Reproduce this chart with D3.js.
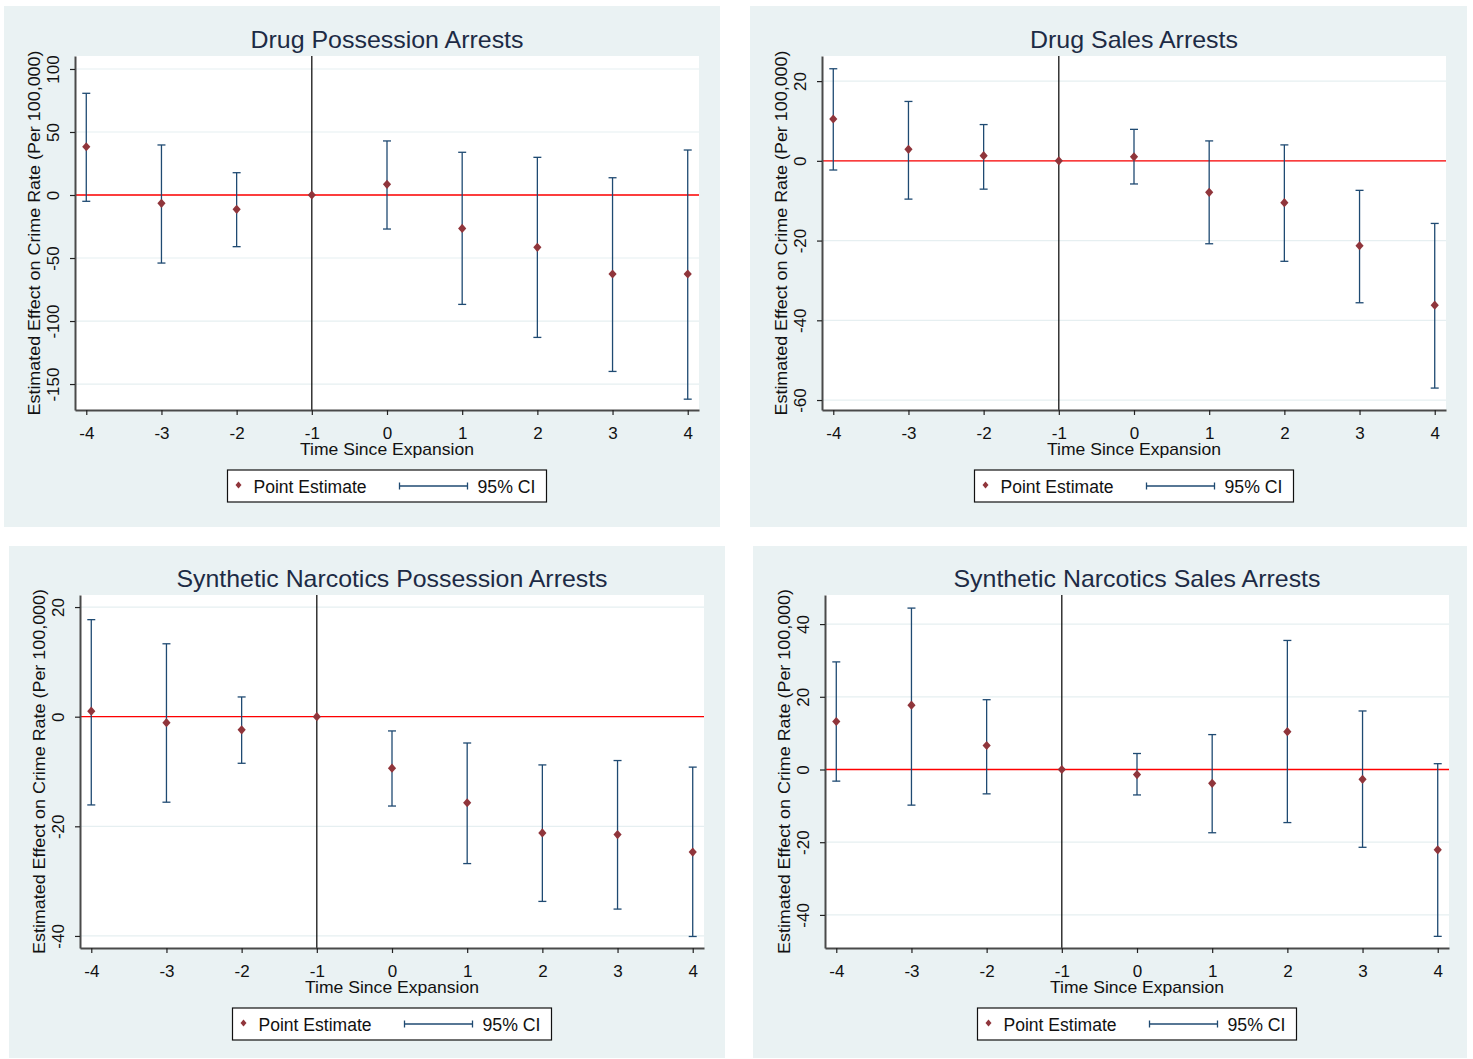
<!DOCTYPE html>
<html>
<head>
<meta charset="utf-8">
<script src="https://cdn.jsdelivr.net/npm/d3@7"></script>
<style>
  body { margin: 0; background: #ffffff; }
  text { font-family: "Liberation Sans", Arial, sans-serif; }
</style>
</head>
<body>
<svg id="chart" width="1473" height="1059"></svg>
<script>
// Event-study periods (years relative to the expansion)
const periods = [-4, -3, -2, -1, 0, 1, 2, 3, 4];

const panelTitles = [
  "Drug Possession Arrests",
  "Drug Sales Arrests",
  "Synthetic Narcotics Possession Arrests",
  "Synthetic Narcotics Sales Arrests"
];

const xAxisTitle = "Time Since Expansion";
const yAxisTitle = "Estimated Effect on Crime Rate (Per 100,000)";
const legendLabels = ["Point Estimate", "95% CI"];

// Drug possession arrests
const possessionEst = [38.3, -6.6, -11.4, 0, 8.5, -26.5, -41.5, -62.7, -62.7];
const possessionLo  = [-5.0, -54.0, -41.0, null, -27.0, -86.8, -113.0, -140.0, -162.0];
const possessionHi  = [80.7, 39.7, 17.7, null, 42.9, 33.9, 29.9, 13.7, 35.7];
const possessionTicks = [-150, -100, -50, 0, 50, 100];
const possessionRange = [-170.6, 110.3];

// Drug sales arrests
const salesEst = [10.5, 2.9, 1.3, 0, 1.0, -7.9, -10.5, -21.3, -36.2];
const salesLo  = [-2.3, -9.6, -7.1, null, -5.8, -20.8, -25.2, -35.6, -57.0];
const salesHi  = [23.1, 14.9, 9.1, null, 7.9, 5.0, 4.0, -7.4, -15.7];
const salesTicks = [-60, -40, -20, 0, 20];
const salesRange = [-62.5, 26.3];

// Synthetic narcotics possession arrests
const synPossEst = [1.0, -1.1, -2.4, 0, -9.4, -15.7, -21.2, -21.5, -24.7];
const synPossLo  = [-16.1, -15.6, -8.5, null, -16.3, -26.8, -33.7, -35.1, -40.1];
const synPossHi  = [17.7, 13.3, 3.6, null, -2.6, -4.8, -8.8, -8.0, -9.2];
const synPossTicks = [-40, -20, 0, 20];
const synPossRange = [-42.2, 22.2];

// Synthetic narcotics sales arrests
const synSalesEst = [13.2, 17.7, 6.6, 0, -1.4, -3.8, 10.4, -2.7, -22.1];
const synSalesLo  = [-3.2, -9.8, -6.7, null, -7.0, -17.4, -14.6, -21.4, -45.9];
const synSalesHi  = [29.6, 44.4, 19.2, null, 4.4, 9.6, 35.5, 16.1, 1.6];
const synSalesTicks = [-40, -20, 0, 20, 40];
const synSalesRange = [-49.1, 48.0];

const xRange = [-4.15, 4.15];
const referencePeriod = -1;

// Colours
const COL_BG = "#eaf2f3";
const COL_GRID = "#e6eff1";
const COL_CI = "#1f4a72";
const COL_PT = "#90353b";
const COL_AXIS = "#4a4a4a";
const COL_TITLE = "#1d2b45";

const panels = [
  { title: panelTitles[0], est: possessionEst, lo: possessionLo, hi: possessionHi,
    ticks: possessionTicks, yDom: possessionRange,
    box: { x: 4, y: 6, w: 716, h: 521 }, plot: { x: 75, y: 56, w: 624, h: 354 } },
  { title: panelTitles[1], est: salesEst, lo: salesLo, hi: salesHi,
    ticks: salesTicks, yDom: salesRange,
    box: { x: 750, y: 6, w: 717, h: 521 }, plot: { x: 822, y: 56, w: 624, h: 354 } },
  { title: panelTitles[2], est: synPossEst, lo: synPossLo, hi: synPossHi,
    ticks: synPossTicks, yDom: synPossRange,
    box: { x: 9, y: 546, w: 716, h: 512 }, plot: { x: 80, y: 595, w: 624, h: 353 } },
  { title: panelTitles[3], est: synSalesEst, lo: synSalesLo, hi: synSalesHi,
    ticks: synSalesTicks, yDom: synSalesRange,
    box: { x: 753, y: 546, w: 714, h: 512 }, plot: { x: 825, y: 595, w: 624, h: 353 } }
];

const titleWidths = [273, 208, 431, 367];

const svg = d3.select("#chart");
const diamond = "M0,-4.6L4.1,0L0,4.6L-4.1,0Z";
const smallDiamond = "M0,-3.6L3,0L0,3.6L-3,0Z";
const plainNumber = d => String(d);   // keep ASCII hyphen for negatives

panels.forEach((p, i) => {
  // panel background
  svg.append("rect")
    .attr("x", p.box.x).attr("y", p.box.y)
    .attr("width", p.box.w).attr("height", p.box.h)
    .attr("fill", COL_BG);

  const g = svg.append("g").attr("transform", `translate(${p.plot.x},${p.plot.y})`);
  const W = p.plot.w, H = p.plot.h;

  const x = d3.scaleLinear().domain(xRange).range([0, W]);
  const y = d3.scaleLinear().domain(p.yDom).range([H, 0]);

  // plot region
  g.append("rect").attr("width", W).attr("height", H).attr("fill", "#ffffff");

  // horizontal grid
  g.selectAll("line.grid").data(p.ticks).enter().append("line")
    .attr("class", "grid")
    .attr("x1", 0).attr("x2", W)
    .attr("y1", d => y(d)).attr("y2", d => y(d))
    .attr("stroke", COL_GRID).attr("stroke-width", 1.2);

  // zero line and reference-period line
  g.append("line")
    .attr("x1", 0).attr("x2", W)
    .attr("y1", y(0)).attr("y2", y(0))
    .attr("stroke", "#ff0000").attr("stroke-width", 1.3);
  g.append("line")
    .attr("x1", x(referencePeriod)).attr("x2", x(referencePeriod))
    .attr("y1", 0).attr("y2", H)
    .attr("stroke", "#000000").attr("stroke-width", 1.2);

  // confidence intervals
  const rows = periods.map((t, k) => ({ t, est: p.est[k], lo: p.lo[k], hi: p.hi[k] }));
  const ci = g.selectAll("g.ci").data(rows.filter(d => d.lo !== null)).enter()
    .append("g").attr("class", "ci");
  ci.append("line")
    .attr("x1", d => x(d.t)).attr("x2", d => x(d.t))
    .attr("y1", d => y(d.lo)).attr("y2", d => y(d.hi))
    .attr("stroke", COL_CI).attr("stroke-width", 1.3);
  ["lo", "hi"].forEach(k => {
    ci.append("line")
      .attr("x1", d => x(d.t) - 4).attr("x2", d => x(d.t) + 4)
      .attr("y1", d => y(d[k])).attr("y2", d => y(d[k]))
      .attr("stroke", COL_CI).attr("stroke-width", 1.3);
  });

  // point estimates
  g.selectAll("path.pt").data(rows).enter().append("path")
    .attr("class", "pt")
    .attr("d", diamond)
    .attr("transform", d => `translate(${x(d.t)},${y(d.est)})`)
    .attr("fill", COL_PT);

  // axes
  const yAxis = g.append("g")
    .call(d3.axisLeft(y).tickValues(p.ticks).tickFormat(plainNumber).tickSize(5).tickSizeOuter(0));
  yAxis.select(".domain").attr("stroke", COL_AXIS).attr("stroke-width", 2);
  yAxis.selectAll(".tick line").attr("stroke", "#222").attr("stroke-width", 1.2);
  yAxis.selectAll(".tick text")
    .attr("x", null).attr("dy", null)
    .attr("transform", "translate(-16,0) rotate(-90)")
    .attr("text-anchor", "middle")
    .attr("font-size", 17)
    .attr("font-family", "Liberation Sans, Arial, sans-serif")
    .attr("fill", "#111");

  const xAxis = g.append("g").attr("transform", `translate(0,${H})`)
    .call(d3.axisBottom(x).tickValues(periods).tickFormat(plainNumber)
      .tickSize(5).tickSizeOuter(0).tickPadding(11.6));
  xAxis.select(".domain").attr("stroke", COL_AXIS).attr("stroke-width", 2);
  xAxis.selectAll(".tick line").attr("stroke", "#222").attr("stroke-width", 1.2);
  xAxis.selectAll(".tick text")
    .attr("font-size", 17)
    .attr("font-family", "Liberation Sans, Arial, sans-serif")
    .attr("fill", "#111");

  // titles
  g.append("text")
    .attr("x", W / 2).attr("y", -8)
    .attr("text-anchor", "middle")
    .attr("font-size", 24)
    .attr("fill", COL_TITLE)
    .attr("textLength", titleWidths[i]).attr("lengthAdjust", "spacingAndGlyphs")
    .text(p.title);

  g.append("text")
    .attr("x", W / 2).attr("y", H + 45)
    .attr("text-anchor", "middle")
    .attr("font-size", 17)
    .attr("fill", "#111")
    .attr("textLength", 174).attr("lengthAdjust", "spacingAndGlyphs")
    .text(xAxisTitle);

  g.append("text")
    .attr("transform", `translate(-35,${H / 2}) rotate(-90)`)
    .attr("text-anchor", "middle")
    .attr("font-size", 17)
    .attr("fill", "#111")
    .attr("textLength", 365).attr("lengthAdjust", "spacingAndGlyphs")
    .text(yAxisTitle);

  // legend
  const lw = 319, lh = 32;
  const lg = g.append("g").attr("transform", `translate(${W / 2 - lw / 2},${H + 60})`);
  lg.append("rect").attr("width", lw).attr("height", lh)
    .attr("fill", "#ffffff").attr("stroke", "#111").attr("stroke-width", 1.2);
  lg.append("path").attr("d", smallDiamond)
    .attr("transform", `translate(11,${lh / 2 - 1})`).attr("fill", COL_PT);
  lg.append("text").attr("x", 26).attr("y", lh / 2 + 6.5)
    .attr("font-size", 17.5).attr("fill", "#111")
    .attr("textLength", 113).attr("lengthAdjust", "spacingAndGlyphs")
    .text(legendLabels[0]);
  lg.append("line").attr("x1", 172).attr("x2", 240)
    .attr("y1", lh / 2).attr("y2", lh / 2)
    .attr("stroke", COL_CI).attr("stroke-width", 1.3);
  [172, 240].forEach(cx => {
    lg.append("line").attr("x1", cx).attr("x2", cx)
      .attr("y1", lh / 2 - 3.5).attr("y2", lh / 2 + 3.5)
      .attr("stroke", COL_CI).attr("stroke-width", 1.3);
  });
  lg.append("text").attr("x", 250).attr("y", lh / 2 + 6.5)
    .attr("font-size", 17.5).attr("fill", "#111")
    .attr("textLength", 58).attr("lengthAdjust", "spacingAndGlyphs")
    .text(legendLabels[1]);
});
</script>
</body>
</html>
